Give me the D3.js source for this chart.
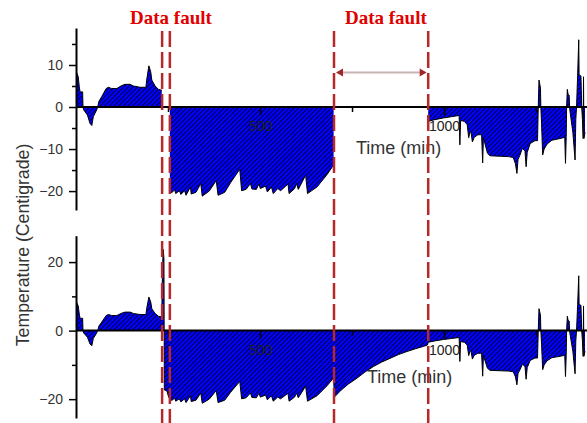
<!DOCTYPE html>
<html><head><meta charset="utf-8">
<script src="https://cdn.jsdelivr.net/npm/d3@7"></script>
<style>body{margin:0;background:#fff} svg{display:block}</style>
</head><body><svg id="c" width="587" height="423"></svg>
<script>
// time (min), temperature (Centigrade)
const seg1 = [[0,8.3],[2,8.2],[6,7.2],[9,4.8],[11,3.6],[18,3.6],[19,0],[21,-0.7],[31,-1.9],[38,-3.9],[43,-4.4],[47,-2.3],[56,-0.7],[59,0],[62,1.3],[70,2.5],[82,4.4],[88,4.7],[97,4.4],[111,4.4],[122,5.0],[133,5.4],[147,5.4],[156,5.0],[174,4.7],[190,4.7],[192,6.4],[198,9.8],[203,8.4],[206,6.4],[215,5.0],[224,4.2],[233,4.0]];
const seg2 = [[255,-19.8],[260,-20.4],[268,-19.7],[271,-20.6],[281,-19.9],[285,-20.8],[295,-19.9],[299,-21.0],[311,-19.0],[313,-20.7],[326,-20.3],[339,-18.2],[343,-21.2],[362,-20.0],[381,-17.5],[386,-21.0],[404,-20.3],[420,-18.0],[445,-14.8],[450,-19.9],[462,-19.6],[474,-18.2],[478,-19.5],[490,-19.6],[497,-18.3],[501,-19.4],[515,-18.8],[520,-20.2],[531,-19.0],[536,-20.6],[548,-19.4],[556,-19.9],[576,-18.3],[579,-20.6],[594,-19.4],[599,-18.2],[604,-19.6],[624,-16.2],[629,-20.6],[655,-19.0],[681,-16.2],[700,-13.8]];
const seg3 = [[957,-3.4],[975,-3.0],[998,-2.6],[1020,-2.3],[1041,-2.0],[1043,-9.0],[1045,-3.2],[1055,-3.4],[1063,-4.2],[1067,-7.3],[1070,-6.2],[1073,-5.8],[1077,-8.3],[1082,-7.2],[1092,-6.6],[1102,-6.6],[1105,-13.3],[1107,-7.2],[1112,-9.0],[1118,-11.0],[1125,-11.6],[1150,-11.7],[1175,-11.8],[1188,-12.0],[1194,-13.5],[1198,-15.8],[1201,-12.5],[1206,-11.5],[1213,-9.8],[1220,-10.5],[1223,-14.2],[1226,-10.8],[1234,-8.7],[1247,-8.0],[1254,-8.0],[1256,0],[1258,6.4],[1260,5.5],[1262,4.5],[1263,0],[1265,-4],[1268,-11.4],[1272,-10.0],[1280,-8.8],[1293,-7.9],[1315,-7.5],[1328,-7.2],[1330,-13.4],[1332,-7],[1333,0],[1335,4.2],[1337,3.0],[1340,2.8],[1341,0],[1343,-1.5],[1350,-6],[1356,-12.6],[1358,-3],[1360,0],[1363,7.6],[1366,16],[1367,7.6],[1372,7.4],[1374,0],[1376,-3],[1378,-7.5],[1379,7.2],[1380,-7.5],[1383,-6]];
const gap1Fill = [[235,18],[237,23.7],[239,21],[240,-17.3],[247,-17.6],[252,-19.5]];
const gap2Fill = [[702,-19.4],[720,-17.4],[740,-15.6],[763,-13.9],[785,-12.1],[808,-10.5],[830,-9.2],[853,-8.1],[876,-7.0],[899,-6.1],[922,-5.3],[944,-4.6],[955,-4.2]];
const faultTimes = [234, 255, 701, 957];
const faultLabelTimes = [258, 842];
const faultLabel = "Data fault";
const xMajorTicks = [500, 1000];
const xMinorTicks = [250, 750, 1250];
const topMajorTicks = [-20, -10, 0, 10];
const topMinorTicks = [-15, -5, 5, 15];
const botMajorTicks = [-20, 0, 20];
const botMinorTicks = [-10, 10];
const xTitle = "Time (min)";
const yTitle = "Temperature (Centigrade)";

const svg = d3.select('#c');
const x = d3.scaleLinear().domain([0, 1383]).range([76, 585]);
const yTop = d3.scaleLinear().domain([-24.5, 18.8]).range([210, 28]);
const yBot = d3.scaleLinear().domain([-25.5, 27.7]).range([418, 235.7]);

const defs = svg.append('defs');
const hs = 3.3;
const pat = defs.append('pattern').attr('id', 'hatch').attr('patternUnits', 'userSpaceOnUse')
  .attr('width', hs).attr('height', hs).attr('patternTransform', 'rotate(45)');
pat.append('rect').attr('width', hs).attr('height', hs).attr('fill', '#0000ff');
pat.append('line').attr('x1', 0.5).attr('y1', 0).attr('x2', 0.5).attr('y2', hs)
  .attr('stroke', '#000').attr('stroke-width', 0.75);

const toPts = a => a.map(([t, v]) => ({t, v}));
const topData = [...toPts(seg1), {t: null, v: null}, ...toPts(seg2), {t: null, v: null}, ...toPts(seg3)];
const botData = toPts([...seg1, ...gap1Fill, ...seg2, ...gap2Fill, ...seg3]);

const FONT = "'Liberation Sans', Arial, sans-serif";

function panel(y, data, major, minor, titleX, titleY) {
  const g = svg.append('g');
  const area = d3.area().defined(d => d.v !== null).x(d => x(d.t)).y0(y(0)).y1(d => y(d.v));
  const line = d3.line().defined(d => d.v !== null).x(d => x(d.t)).y(d => y(d.v));
  g.append('path').datum(data).attr('d', area).attr('fill', 'url(#hatch)');
  g.append('path').datum(data).attr('d', line).attr('fill', 'none').attr('stroke', '#000').attr('stroke-width', 1);

  g.append('line').attr('x1', x.range()[0]).attr('x2', x.range()[1] + 2)
    .attr('y1', y(0)).attr('y2', y(0)).attr('stroke', '#000').attr('stroke-width', 2);

  const xa = d3.axisBottom(x).tickValues(xMajorTicks).tickSize(8).tickPadding(6).tickFormat(d3.format('d'));
  const gx = g.append('g').attr('transform', `translate(0,${y(0)})`).call(xa);
  gx.select('.domain').remove();
  gx.selectAll('line').attr('stroke', '#000').attr('stroke-width', 1.5);
  gx.selectAll('text').attr('font-family', FONT).attr('font-size', 14).attr('fill', '#222');
  const xm = d3.axisBottom(x).tickValues(xMinorTicks).tickSize(5).tickFormat('');
  const gxm = g.append('g').attr('transform', `translate(0,${y(0)})`).call(xm);
  gxm.select('.domain').remove();
  gxm.selectAll('line').attr('stroke', '#000').attr('stroke-width', 1.5);

  const ya = d3.axisLeft(y).tickValues(major).tickSize(7).tickSizeOuter(0).tickPadding(6);
  const gy = g.append('g').attr('transform', `translate(${x.range()[0]},0)`).call(ya);
  gy.select('.domain').attr('stroke', '#000').attr('stroke-width', 2);
  gy.selectAll('.tick line').attr('stroke', '#000').attr('stroke-width', 1.5);
  gy.selectAll('text').attr('font-family', FONT).attr('font-size', 14).attr('fill', '#333');
  const ym = d3.axisLeft(y).tickValues(minor).tickSize(4).tickSizeOuter(0).tickFormat('');
  const gym = g.append('g').attr('transform', `translate(${x.range()[0]},0)`).call(ym);
  gym.select('.domain').remove();
  gym.selectAll('line').attr('stroke', '#000').attr('stroke-width', 1.5);

  g.append('text').attr('x', titleX).attr('y', titleY).text(xTitle)
    .attr('font-family', FONT).attr('font-size', 18).attr('fill', '#333');
}

panel(yTop, topData, topMajorTicks, topMinorTicks, 356, 154);
panel(yBot, botData, botMajorTicks, botMinorTicks, 367, 382.5);

svg.append('text').attr('transform', 'translate(28.5,245) rotate(-90)')
  .attr('text-anchor', 'middle').attr('font-family', FONT).attr('font-size', 17.7)
  .attr('fill', '#333').text(yTitle);

svg.selectAll('.fault').data(faultTimes).enter().append('line')
  .attr('x1', d => x(d)).attr('x2', d => x(d)).attr('y1', 31).attr('y2', 423)
  .attr('stroke', '#b5292b').attr('stroke-width', 2.5).attr('stroke-dasharray', '16,5');

svg.selectAll('.flab').data(faultLabelTimes).enter().append('text')
  .attr('x', d => x(d)).attr('y', 23.5).attr('text-anchor', 'middle')
  .attr('font-family', "'Liberation Serif', 'Times New Roman', serif").attr('font-weight', 'bold')
  .attr('font-size', 19).attr('fill', '#e00000').text(faultLabel);

const ay = 72.5, a0 = x(faultTimes[2]) + 2, a1 = x(faultTimes[3]) - 1.5;
svg.append('line').attr('x1', a0 + 4).attr('x2', a1 - 4).attr('y1', ay).attr('y2', ay)
  .attr('stroke', '#c9b4b4').attr('stroke-width', 2);
svg.append('path').attr('d', `M${a0},${ay} l7,-4 l0,8 z`).attr('fill', '#a0282a');
svg.append('path').attr('d', `M${a1},${ay} l-7,-4 l0,8 z`).attr('fill', '#a0282a');
</script></body></html>
